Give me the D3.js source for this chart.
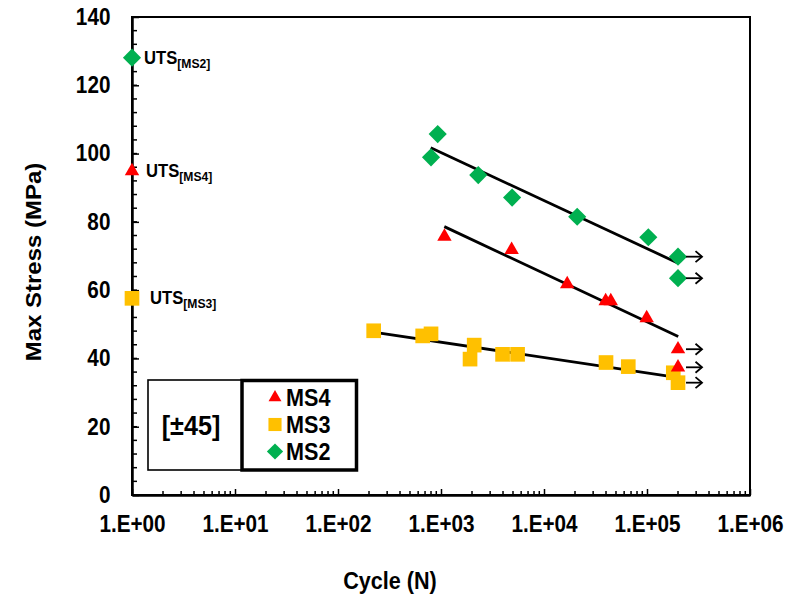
<!DOCTYPE html>
<html>
<head>
<meta charset="utf-8">
<script src="https://cdn.jsdelivr.net/npm/d3@7"></script>
<style>
  body { margin: 0; background: #fff; }
  svg text { font-family: "Liberation Sans", Arial, sans-serif; font-weight: bold; fill: #000; }
</style>
</head>
<body>
<svg id="chart" width="790" height="602"></svg>
<script>
// ---- axis ticks ----
const decadeTicks = [1, 10, 100, 1e3, 1e4, 1e5, 1e6];
const decadeLabels = ["1.E+00", "1.E+01", "1.E+02", "1.E+03", "1.E+04", "1.E+05", "1.E+06"];
const stressTicks = [0, 20, 40, 60, 80, 100, 120, 140];

// ---- fatigue data: cycles to failure (N) and max stress (MPa) ----
const ms2Cycles = [929, 800, 2300, 4900, 21000, 103000, 200000, 200000];
const ms2Stress = [105.7, 98.9, 93.7, 87.1, 81.5, 75.5, 69.8, 63.5];
const ms2Runout = [false, false, false, false, false, false, true, true];

const ms4Cycles = [1080, 4850, 16800, 39700, 44500, 99300, 200000, 200000];
const ms4Stress = [75.7, 71.8, 61.8, 56.8, 56.8, 51.8, 42.7, 37.4];
const ms4Runout = [false, false, false, false, false, false, true, true];

const ms3Cycles = [222, 664, 800, 1914, 2100, 3960, 5540, 40000, 65800, 180000, 200000];
const ms3Stress = [48.1, 46.6, 47.2, 39.8, 43.9, 41.2, 41.2, 38.8, 37.6, 35.8, 32.9];
const ms3Runout = [false, false, false, false, false, false, false, false, false, false, true];

// ---- static strength (plotted at N = 1) ----
const utsNames = ["MS2", "MS4", "MS3"];
const utsStress = [128.1, 94.9, 57.6];
const utsCycles = 1;

// ---- S-N fit lines (end points) ----
const ms2FitCycles = [795, 201000];
const ms2FitStress = [101.7, 67.9];
const ms4FitCycles = [1077, 201000];
const ms4FitStress = [78.6, 46.4];
const ms3FitCycles = [220, 201000];
const ms3FitStress = [47.7, 34.4];

const legendNames = ["MS4", "MS3", "MS2"];
const layupLabel = "[±45]";

// ---- styles ----
const colors = { MS2: "#00B050", MS4: "#FF0000", MS3: "#FFC000" };
const shapes = {
  MS2: { type: d3.symbolSquare, size: 165, rotate: 45 },
  MS4: { type: d3.symbolTriangle, size: 90, rotate: 0 },
  MS3: { type: d3.symbolSquare, size: 215, rotate: 0 }
};
const squeeze = 0.9;   // narrow, tall bold lettering

const svg = d3.select("#chart");
const margin = { left: 132, right: 40, top: 17, bottom: 107 };
const W = 790, H = 602;
const x = d3.scaleLog().domain([1, 1e6]).range([margin.left, W - margin.right]);
const y = d3.scaleLinear().domain([0, 140]).range([H - margin.bottom, margin.top]);

// plot frame
svg.append("rect")
  .attr("x", x(1)).attr("y", y(140))
  .attr("width", x(1e6) - x(1)).attr("height", y(0) - y(140))
  .attr("fill", "none").attr("stroke", "#000").attr("stroke-width", 2);

// minor log ticks on x axis (inward)
const minorX = [];
for (let k = 0; k < 6; k++) for (let m = 2; m <= 9; m++) minorX.push(m * Math.pow(10, k));
svg.append("g").selectAll("line").data(minorX).join("line")
  .attr("x1", d => x(d)).attr("x2", d => x(d))
  .attr("y1", y(0)).attr("y2", y(0) - 4)
  .attr("stroke", "#000").attr("stroke-width", 1.5);

// x axis with inward decade ticks
const xAxis = d3.axisBottom(x).tickValues(decadeTicks)
  .tickFormat((d, i) => decadeLabels[i]).tickSizeInner(-6).tickSizeOuter(0).tickPadding(21);
const gx = svg.append("g").attr("transform", `translate(0,${y(0)})`).call(xAxis);
gx.select(".domain").attr("stroke-width", 2.5);
gx.selectAll(".tick line").attr("stroke-width", 1.5);
gx.selectAll(".tick text").style("font-size", "23px").attr("fill", "#000")
  .attr("transform", `scale(${squeeze},1)`);

// minor y ticks every 4 MPa
const minorY = d3.range(0, 141, 4);
svg.append("g").selectAll("line").data(minorY).join("line")
  .attr("x1", x(1)).attr("x2", x(1) + 5)
  .attr("y1", d => y(d)).attr("y2", d => y(d))
  .attr("stroke", "#000").attr("stroke-width", 1.5);

const yAxis = d3.axisLeft(y).tickValues(stressTicks).tickFormat(d3.format("d"))
  .tickSizeInner(-7).tickSizeOuter(0).tickPadding(24);
const gy = svg.append("g").attr("transform", `translate(${x(1)},0)`).call(yAxis);
gy.select(".domain").attr("stroke-width", 2.5);
gy.selectAll(".tick line").attr("stroke-width", 1.5);
gy.selectAll(".tick text").style("font-size", "23px").attr("fill", "#000")
  .attr("transform", `scale(${squeeze},1)`);

// axis titles
svg.append("text")
  .attr("transform", `translate(390,589) scale(${squeeze},1)`)
  .attr("text-anchor", "middle").style("font-size", "24px")
  .text("Cycle (N)");
svg.append("text")
  .attr("transform", `translate(41,262) scale(${squeeze},1) rotate(-90)`)
  .attr("text-anchor", "middle").style("font-size", "24px")
  .text("Max Stress (MPa)");

// fit lines
const line = d3.line().x(d => x(d[0])).y(d => y(d[1]));
[[ms2FitCycles, ms2FitStress], [ms4FitCycles, ms4FitStress], [ms3FitCycles, ms3FitStress]]
  .forEach(([c, s]) => {
    svg.append("path")
      .datum(c.map((v, i) => [v, s[i]]))
      .attr("d", line)
      .attr("fill", "none").attr("stroke", "#000").attr("stroke-width", 2.8);
  });

function symbolPath(name, k = 1) {
  return d3.symbol().type(shapes[name].type).size(shapes[name].size * k)();
}

function drawSeries(name, cycles, stress, runout) {
  const pts = cycles.map((c, i) => ({ c, s: stress[i], r: runout[i] }));
  svg.append("g").selectAll("path").data(pts).join("path")
    .attr("d", symbolPath(name))
    .attr("transform", d => `translate(${x(d.c)},${y(d.s)}) rotate(${shapes[name].rotate})`)
    .attr("fill", colors[name]);
  // run-out arrows
  const arr = svg.append("g").selectAll("g").data(pts.filter(d => d.r)).join("g")
    .attr("transform", d => `translate(${x(d.c)},${y(d.s)})`);
  arr.append("line").attr("x1", 8).attr("x2", 24).attr("y1", 0).attr("y2", 0)
    .attr("stroke", "#000").attr("stroke-width", 1.8);
  arr.append("path").attr("d", "M17.5,-5.5 L24,0 L17.5,5.5")
    .attr("fill", "none").attr("stroke", "#000").attr("stroke-width", 1.8);
}

drawSeries("MS3", ms3Cycles, ms3Stress, ms3Runout);
drawSeries("MS2", ms2Cycles, ms2Stress, ms2Runout);
drawSeries("MS4", ms4Cycles, ms4Stress, ms4Runout);

// UTS markers on the N = 1 axis
const utsOffset = { MS2: 12, MS4: 14, MS3: 18 };
utsNames.forEach((name, i) => {
  const px = x(utsCycles), py = y(utsStress[i]);
  svg.append("path")
    .attr("d", symbolPath(name))
    .attr("transform", `translate(${px},${py}) rotate(${shapes[name].rotate})`)
    .attr("fill", colors[name]);
  const t = svg.append("text")
    .attr("transform", `translate(${px + utsOffset[name]},${py + 6}) scale(${squeeze},1)`)
    .style("font-size", "18.5px");
  t.append("tspan").text("UTS");
  t.append("tspan").attr("dy", 4).style("font-size", "13.5px").text(`[${name}]`);
});

// legend
const lg = svg.append("g");
lg.append("rect").attr("x", 148).attr("y", 380).attr("width", 94).attr("height", 90)
  .attr("fill", "#fff").attr("stroke", "#000").attr("stroke-width", 1.6);
lg.append("rect").attr("x", 242).attr("y", 380.5).attr("width", 114.5).attr("height", 89.5)
  .attr("fill", "#fff").attr("stroke", "#000").attr("stroke-width", 3.5);
lg.append("text")
  .attr("transform", `translate(191,425) scale(${squeeze},1)`).attr("dy", "0.35em")
  .attr("text-anchor", "middle").style("font-size", "28px").text(layupLabel);
legendNames.forEach((name, i) => {
  const cy = 397.5 + i * 27;
  lg.append("path")
    .attr("d", symbolPath(name, 0.8))
    .attr("transform", `translate(275,${cy}) rotate(${shapes[name].rotate})`)
    .attr("fill", colors[name]);
  lg.append("text")
    .attr("transform", `translate(286,${cy}) scale(${squeeze},1)`).attr("dy", "0.36em")
    .style("font-size", "24px").text(name);
});
</script>
</body>
</html>
